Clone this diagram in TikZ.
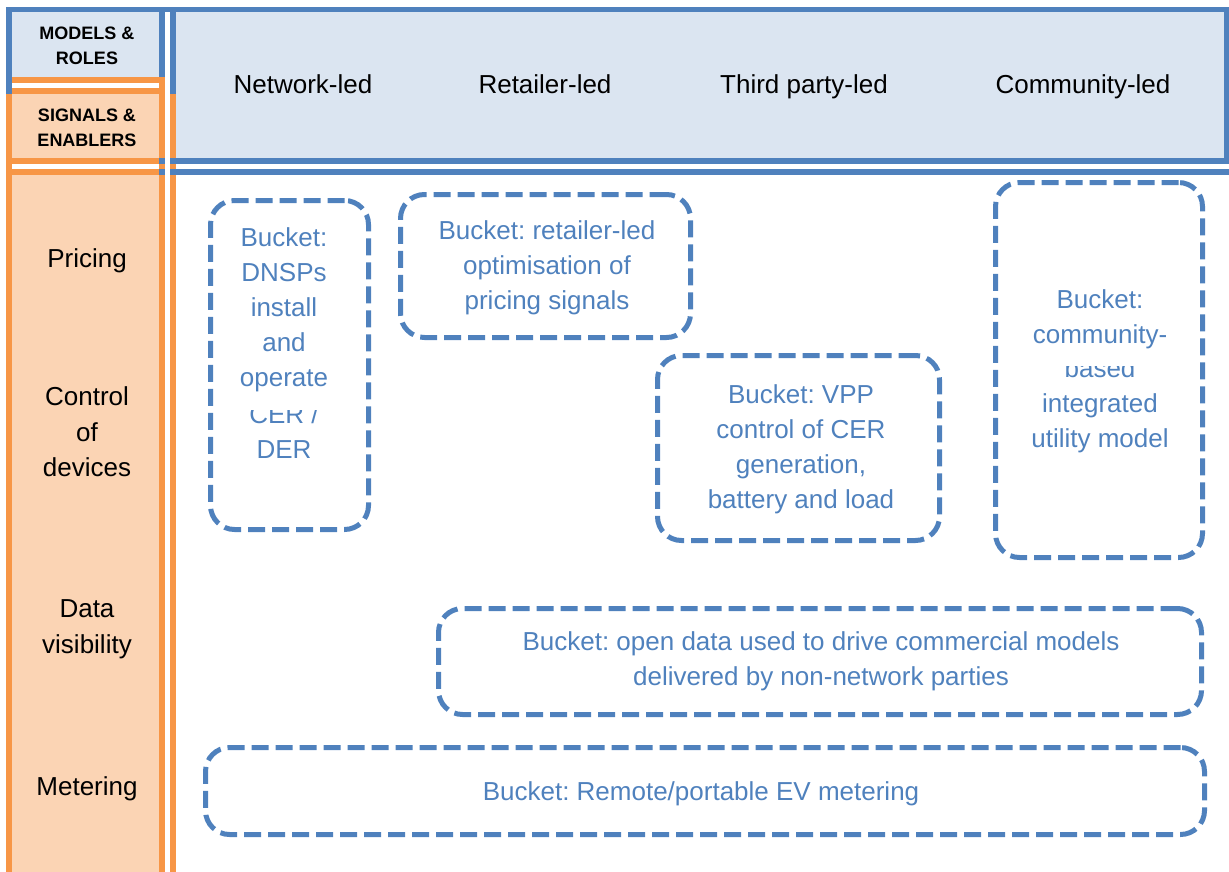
\documentclass[tikz,border=0pt]{standalone}
\usepackage{fontspec}
\setmainfont{Liberation Sans}
\frenchspacing
\definecolor{lblue}{HTML}{4F81BD}
\definecolor{hfill}{HTML}{DBE5F1}
\definecolor{peach}{HTML}{FBD4B4}
\definecolor{org}{HTML}{F79646}
\begin{document}
\begin{tikzpicture}[x=1pt,y=-1pt,
  bucket/.style={draw=lblue, line width=5pt, dash pattern=on 17pt off 7pt, rounded corners=24pt, inner sep=0pt, minimum width=#1},
  btext/.style={text=lblue, font=\fontsize{26}{35}\selectfont, align=center, inner sep=0pt},
  lbl/.style={font=\fontsize{26}{35.5}\selectfont, align=center, inner sep=0pt},
  hdr/.style={font=\bfseries\fontsize{18}{25}\selectfont, align=center, inner sep=0pt}]
\useasboundingbox (0,0) rectangle (1229,872);
% fills
\fill[hfill] (12,12) rectangle (159,77);
\fill[peach] (12,94) rectangle (159,158);
\fill[peach] (12,175) rectangle (159,872);
\fill[hfill] (176,12) rectangle (1224,158);
% frame lines
\fill[org] (6,94) rectangle (12,872);
\fill[lblue] (6,7) rectangle (12,94);
\fill[lblue] (6,7) rectangle (1229,12);
\fill[org] (12,77) rectangle (159,83);
\fill[org] (12,88) rectangle (159,94);
\fill[org] (12,158) rectangle (159,164);
\fill[org] (12,169) rectangle (159,175);
\fill[lblue] (159,12) rectangle (165,77);
\fill[org] (159,77) rectangle (165,872);
\fill[lblue] (170,12) rectangle (176,94);
\fill[org] (170,94) rectangle (176,872);
\fill[lblue] (159,158) rectangle (1229,164);
\fill[lblue] (159,169) rectangle (1229,175);
\fill[white] (165,158) rectangle (170,175);
\fill[lblue] (1224,7) rectangle (1229,164);
% header texts
\node[hdr] (mr) at (87,45.5) {MODELS \&\\ROLES};
\node[hdr] (se) at (87,128) {SIGNALS \&\\ENABLERS};
\node[lbl] (net) at (303,84) {Network-led};
\node[lbl] (ret) at (545,84) {Retailer-led};
\node[lbl] (thp) at (804,87) {Third party-led};
\node[lbl] (com) at (1083,87) {Community-led};
% row labels
\node[lbl] (pri) at (87,261) {Pricing};
\node[lbl] (ctl) at (87,432) {Control\\of\\devices};
\node[lbl] (dat) at (87,629) {Data\\visibility};
\node[lbl] (met) at (87,789) {Metering};
% buckets
\node[bucket=158pt, minimum height=329pt] (b1) at (289.5,365) {};
\node[btext] (t1) at (284,310) {Bucket:\\DNSPs\\install\\and\\operate};
\begin{scope}
\clip (200,410) rectangle (380,470);
\node[btext] (t1b) at (284,432) {CER /\\DER};
\end{scope}
\node[bucket=290pt, minimum height=143pt] (b2) at (545.5,266) {};
\node[btext] (t2) at (547,268) {Bucket: retailer-led\\optimisation of\\pricing signals};
\node[bucket=282pt, minimum height=185pt] (b3) at (798.5,448) {};
\node[btext] (t3) at (801,449) {Bucket: VPP\\control of CER\\generation,\\battery and load};
\node[bucket=207pt, minimum height=375pt] (b4) at (1099,370) {};
\node[btext] (t4a) at (1100,319.5) {Bucket:\\community-};
\begin{scope}
\clip (980,366) rectangle (1220,460);
\node[btext] (t4b) at (1100,405.5) {based\\integrated\\utility model};
\end{scope}
\node[bucket=763pt, minimum height=106pt] (b5) at (820,661.5) {};
\node[btext] (t5) at (821,661.5) {Bucket: open data used to drive commercial models\\delivered by non-network parties};
\node[bucket=999pt, minimum height=87pt] (b6) at (705,791) {};
\node[btext] (t6) at (701,794) {Bucket: Remote/portable EV metering};
\end{tikzpicture}
\end{document}
